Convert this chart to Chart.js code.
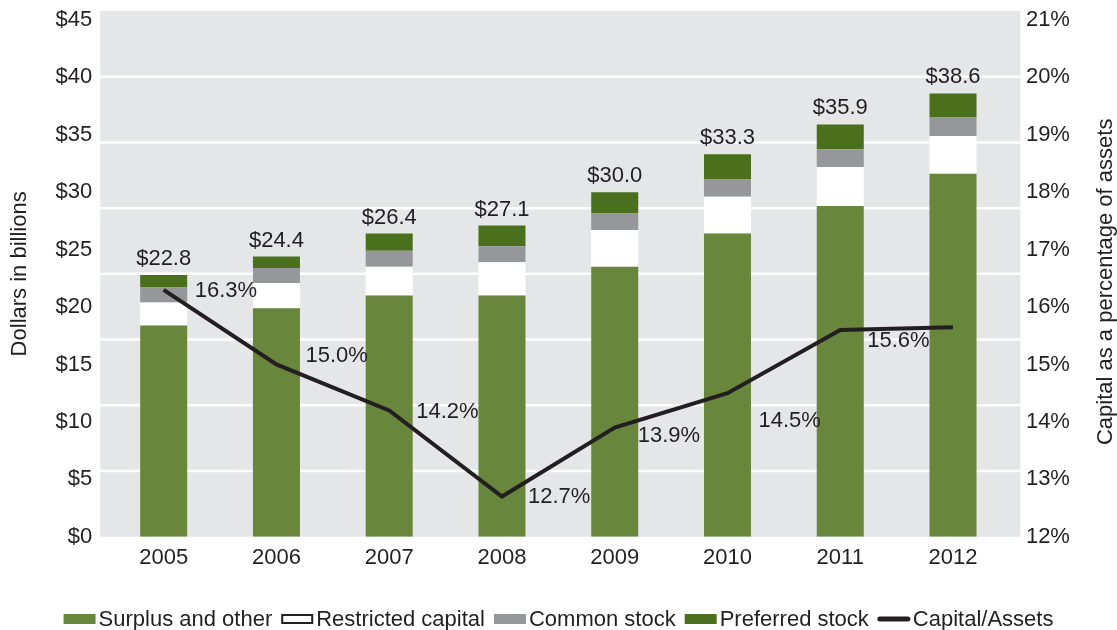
<html lang="en">
<head>
    <meta charset="UTF-8">
    <title>Capital</title>
    <script src="https://cdn.jsdelivr.net/npm/chart.js@4/dist/chart.umd.min.js"></script>
    <style>
        body { margin: 0; background: #fff; }
    </style>
</head>
<body>
    <canvas id="myChart" width="1117" height="630"></canvas>

<script>
    // Datos (miles de millones de dolares y porcentaje)
    var years = ['2005', '2006', '2007', '2008', '2009', '2010', '2011', '2012'];
    var surplus    = [18.4, 19.9, 21.0, 21.0, 23.5, 26.4, 28.8, 31.6];
    var restricted = [2.0, 2.2, 2.5, 2.9, 3.2, 3.2, 3.4, 3.3];
    var common     = [1.3, 1.3, 1.4, 1.4, 1.45, 1.5, 1.55, 1.6];
    var preferred  = [1.1, 1.0, 1.5, 1.8, 1.85, 2.2, 2.15, 2.1];
    var totals     = [22.8, 24.4, 26.4, 27.1, 30.0, 33.3, 35.9, 38.6];
    var capitalPct = [16.3, 15.0, 14.2, 12.7, 13.9, 14.5, 15.6, 15.65];
    var dollarTicks = [0, 5, 10, 15, 20, 25, 30, 35, 40, 45];
    var pctTicks = [12, 13, 14, 15, 16, 17, 18, 19, 20, 21];

    // desplazamiento de las etiquetas de la linea [dx, dy], null = sin etiqueta
    var pctLabelNudge = [[31, 1], [29, -9], [27, 2], [26, 0], [23, 8], [31, 28], [27, 11], null];

    var TEXT = '#231f20';
    var FONT = '"Liberation Sans", Arial, sans-serif';
    Chart.defaults.font.family = FONT;
    Chart.defaults.font.size = 22;
    Chart.defaults.color = TEXT;

    var legendItems = [
        { label: 'Surplus and other', type: 'box', fill: '#69873c' },
        { label: 'Restricted capital', type: 'box', fill: '#ffffff', stroke: TEXT },
        { label: 'Common stock', type: 'box', fill: '#96979b' },
        { label: 'Preferred stock', type: 'box', fill: '#4a701d' },
        { label: 'Capital/Assets', type: 'line', fill: TEXT }
    ];

    // Fondo gris con 8 lineas de cuadricula
    var backdrop = {
        id: 'backdrop',
        beforeDraw: function (chart) {
            var a = chart.chartArea, ctx = chart.ctx;
            var l = a.left - 7, r = a.right + 11;
            ctx.save();
            ctx.fillStyle = '#e5e6e8';
            ctx.fillRect(l, a.top, r - l, a.bottom - a.top);
            ctx.strokeStyle = '#ffffff';
            ctx.lineWidth = 2.5;
            for (var k = 1; k < 8; k++) {
                var y = a.top + k * (a.bottom - a.top) / 8;
                ctx.beginPath();
                ctx.moveTo(l, y);
                ctx.lineTo(r, y);
                ctx.stroke();
            }
            ctx.restore();
        },
        afterDatasetsDraw: function (chart) {
            var ctx = chart.ctx;
            ctx.save();
            ctx.fillStyle = TEXT;
            ctx.font = '22px ' + FONT;

            // totales arriba de cada barra
            var top = chart.getDatasetMeta(3);
            var ys = chart.scales.y;
            ctx.textAlign = 'center';
            ctx.textBaseline = 'alphabetic';
            top.data.forEach(function (bar, i) {
                ctx.fillText('$' + totals[i].toFixed(1), bar.x, ys.getPixelForValue(totals[i]) - 10);
            });

            // etiquetas de la linea
            var line = chart.getDatasetMeta(4);
            ctx.textAlign = 'left';
            ctx.textBaseline = 'middle';
            line.data.forEach(function (pt, i) {
                var n = pctLabelNudge[i];
                if (!n) return;
                ctx.fillText(capitalPct[i].toFixed(1) + '%', pt.x + n[0], pt.y + n[1]);
            });
            ctx.restore();
        },
        afterDraw: function (chart) {
            var ctx = chart.ctx, a = chart.chartArea;
            ctx.save();
            ctx.fillStyle = TEXT;
            ctx.font = '22px ' + FONT;
            ctx.textAlign = 'center';
            ctx.textBaseline = 'middle';
            var midY = (a.top + a.bottom) / 2;

            // titulos de los ejes
            ctx.save();
            ctx.translate(20, midY);
            ctx.rotate(-Math.PI / 2);
            ctx.fillText('Dollars in billions', 0, 0);
            ctx.restore();
            ctx.save();
            ctx.translate(1106, midY + 8);
            ctx.rotate(-Math.PI / 2);
            ctx.fillText('Capital as a percentage of assets', 0, 0);
            ctx.restore();

            // leyenda
            var boxW = 32, boxH = 10, gapIn = 3, gapOut = 9, ly = 619;
            var total = 0;
            legendItems.forEach(function (it) {
                it.w = ctx.measureText(it.label).width;
                total += boxW + gapIn + it.w;
            });
            total += gapOut * (legendItems.length - 1);
            var x = (chart.width - total) / 2;
            ctx.textAlign = 'left';
            legendItems.forEach(function (it) {
                if (it.type === 'box') {
                    ctx.fillStyle = it.fill;
                    ctx.fillRect(x, ly - boxH / 2, boxW, boxH);
                    if (it.stroke) {
                        ctx.strokeStyle = it.stroke;
                        ctx.lineWidth = 2;
                        ctx.strokeRect(x + 1, ly - boxH / 2 + 1, boxW - 2, boxH - 2);
                    }
                } else {
                    ctx.strokeStyle = it.fill;
                    ctx.lineWidth = 5;
                    ctx.lineCap = 'round';
                    ctx.beginPath();
                    ctx.moveTo(x + 2, ly);
                    ctx.lineTo(x + boxW - 2, ly);
                    ctx.stroke();
                }
                x += boxW + gapIn;
                ctx.fillStyle = TEXT;
                ctx.fillText(it.label, x, ly + 1);
                x += it.w + gapOut;
            });
            ctx.restore();
        }
    };

    function barSet(label, data, color) {
        return {
            type: 'bar',
            label: label,
            data: data,
            backgroundColor: color,
            borderWidth: 0,
            yAxisID: 'y',
            stack: 'capital',
            order: 1,
            categoryPercentage: 1,
            barPercentage: 0.417
        };
    }

    // sin relleno extra arriba/abajo por las etiquetas de los ejes
    function fitY(width) {
        return function (s) {
            s.width = width;
            s.paddingTop = 0;
            s.paddingBottom = 0;
        };
    }

    var ctx = document.getElementById('myChart').getContext('2d');
    var myChart = new Chart(ctx, {
        data: {
            labels: years,
            datasets: [
                barSet('Surplus and other', surplus, '#69873c'),
                barSet('Restricted capital', restricted, '#ffffff'),
                barSet('Common stock', common, '#96979b'),
                barSet('Preferred stock', preferred, '#4a701d'),
                {
                    type: 'line',
                    label: 'Capital/Assets',
                    data: capitalPct,
                    yAxisID: 'y2',
                    borderColor: TEXT,
                    borderWidth: 4,
                    pointRadius: 0,
                    tension: 0,
                    order: 0
                }
            ]
        },
        options: {
            responsive: false,
            animation: false,
            layout: { padding: { left: 0, right: 0, top: 11, bottom: 33.3 } },
            plugins: {
                legend: { display: false },
                tooltip: { enabled: false }
            },
            scales: {
                x: {
                    stacked: true,
                    grid: { display: false, drawTicks: false },
                    border: { display: false },
                    ticks: { padding: 8, color: TEXT },
                    afterFit: function (s) {
                        s.height = 60;
                        s.paddingLeft = 0;
                        s.paddingRight = 0;
                    }
                },
                y: {
                    stacked: true,
                    position: 'left',
                    min: 0,
                    max: 45 + 9 / 11.482,
                    grid: { display: false, drawTicks: false },
                    border: { display: false },
                    ticks: {
                        padding: 15,
                        color: TEXT,
                        callback: function (v) { return '$' + v; }
                    },
                    afterBuildTicks: function (s) {
                        s.ticks = dollarTicks.map(function (v) { return { value: v }; });
                    },
                    afterFit: fitY(107.3)
                },
                y2: {
                    position: 'right',
                    min: 12,
                    max: 21 + 9 / 57.41,
                    grid: { display: false, drawTicks: false },
                    border: { display: false },
                    ticks: {
                        padding: 16.5,
                        color: TEXT,
                        callback: function (v) { return v + '%'; }
                    },
                    afterBuildTicks: function (s) {
                        s.ticks = pctTicks.map(function (v) { return { value: v }; });
                    },
                    afterFit: fitY(107.6)
                }
            }
        },
        plugins: [backdrop]
    });
</script>
</body>
</html>
